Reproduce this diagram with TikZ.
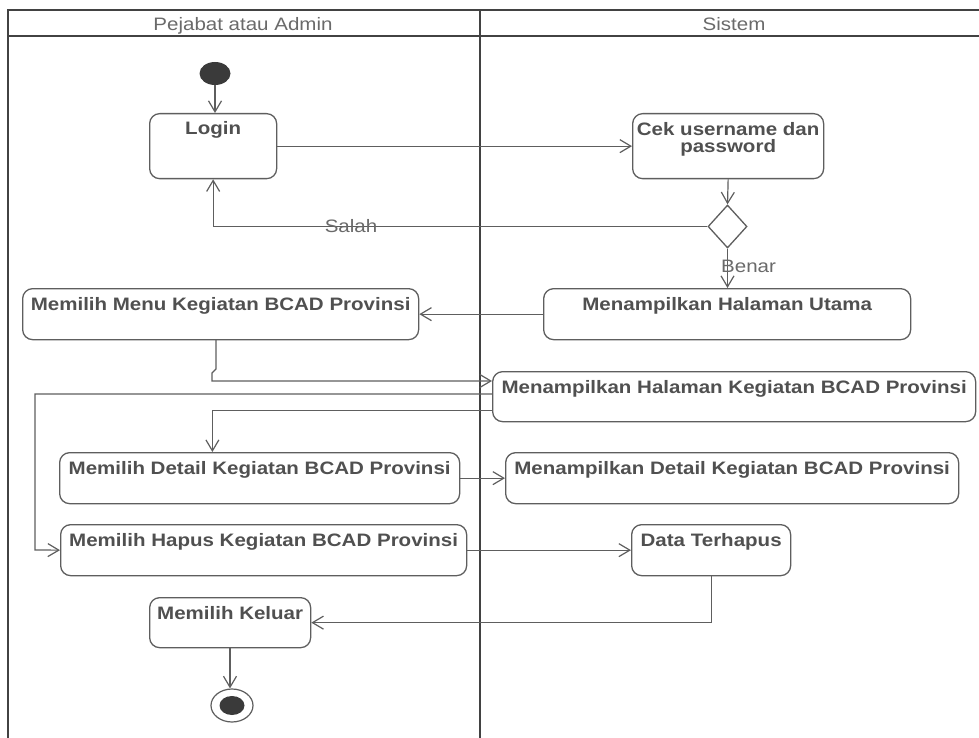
\documentclass[tikz,border=0pt]{standalone}
\usepackage{fontspec}
\setmainfont{Liberation Sans}[FakeStretch=1.14]
\usetikzlibrary{arrows.meta,calc,shapes.geometric}
\definecolor{frm}{HTML}{424242}
\definecolor{ln}{HTML}{5E5E5E}
\definecolor{txt}{HTML}{505050}
\definecolor{htxt}{HTML}{6A6A6A}
\definecolor{dot}{HTML}{3A3A3A}
\tikzset{
  frame/.style={draw=frm, line width=2.6pt},
  abox/.style={draw=ln, line width=1.3pt, rounded corners=10pt, fill=white, inner sep=0pt},
  atext/.style={font=\fontsize{18}{19}\selectfont\bfseries, text=txt, inner sep=0pt},
  hdr/.style={font=\fontsize{18}{19}\selectfont, text=htxt, inner sep=0pt},
  glabel/.style={font=\fontsize{18}{19}\selectfont, text=htxt, inner sep=0pt},
  conn/.style={draw=ln, line width=1.2pt, -{Straight Barb[length=11pt,width=13pt,line width=1.2pt]}},
  plain/.style={draw=ln, line width=1.2pt}
}
\newcommand\actbox[6]{%
  \node[abox, anchor=north west, minimum width={#4-#2}, minimum height={#5-#3}] (#1) at (#2,#3) {};
  \node[atext, anchor=base] (#1t) at ($(#1.north)+(0,22)$) {#6};}
\begin{document}
\begin{tikzpicture}[x=1pt,y=-1pt]
\useasboundingbox (0,0) rectangle (979,738);
\fill[white] (0,0) rectangle (979,738);
% swimlane frame
\coordinate (f1) at (8,738);
\coordinate (f2) at (8,10);
\coordinate (f3) at (979,10);
\coordinate (f4) at (8,36);
\coordinate (f5) at (979,36);
\coordinate (f6) at (480,10);
\coordinate (f7) at (480,738);
\draw[frame] (f1) -- (f2) -- (f3);
\draw[frame] (f4) -- (f5);
\draw[frame] (f6) -- (f7);
\node[hdr, anchor=base] (h1) at (243,31) {Pejabat atau Admin};
\node[hdr, anchor=base] (h2) at (734,31) {Sistem};
% start
\node[ellipse, fill=dot, minimum width=31pt, minimum height=23pt, inner sep=0pt] (start) at (215,73.5) {};
% activities
\actbox{login}{149}{113}{276}{178}{Login}
\node[abox, anchor=north west, minimum width=191pt, minimum height=65pt] (cek) at (632,113) {};
\node[atext, anchor=north, align=center, font=\fontsize{18}{17.5}\selectfont\bfseries] (cekt) at ($(cek.north)+(0,9)$) {Cek username dan\\password};
\node[diamond, draw=ln, line width=1.3pt, fill=white, minimum width=39pt, minimum height=43pt, inner sep=0pt, aspect=0.9] (dec) at (727.5,226.5) {};
\actbox{utama}{543}{288}{910}{339}{Menampilkan Halaman Utama}
\actbox{menu}{22}{288}{418}{339}{Memilih Menu Kegiatan BCAD Provinsi}
\actbox{halkeg}{492}{371}{975}{421}{Menampilkan Halaman Kegiatan BCAD Provinsi}
\actbox{detail}{59}{452}{459}{503}{Memilih Detail Kegiatan BCAD Provinsi}
\actbox{mdetail}{505}{452}{958}{503}{Menampilkan Detail Kegiatan BCAD Provinsi}
\actbox{hapus}{60}{524}{466}{575}{Memilih Hapus Kegiatan BCAD Provinsi}
\actbox{terhapus}{631}{524}{790}{575}{Data Terhapus}
\actbox{keluar}{149}{597}{310}{647}{Memilih Keluar}
% end
\node[ellipse, draw=ln, line width=1.2pt, fill=white, minimum width=42pt, minimum height=33pt, inner sep=0pt] (endo) at (232,705.5) {};
\node[ellipse, fill=dot, minimum width=25pt, minimum height=19pt, inner sep=0pt] (endi) at (232,705.5) {};
% connectors
\draw[conn] (start.south) -- (start.south |- login.north);
\draw[conn] (login.east) -- (cek.west);
\draw[conn] (cek.south) -- (dec.north);
\draw[conn] (dec.west) -| (login.south);
\node[glabel, anchor=base] (salah) at (351,232) {Salah};
\draw[conn] (dec.south) -- (dec.south |- utama.north);
\node[glabel, anchor=base west] (benar) at (721,272) {Benar};
\draw[conn] (utama.west) -- (menu.east);
% menu -> halaman kegiatan (with small jog)
\coordinate (j0) at (216,339);
\coordinate (j1) at (216,369);
\coordinate (j2) at (212,373);
\coordinate (j3) at (212,381);
\coordinate (k1) at (492,381);
\draw[conn] (j0) -- (j1) -- (j2) -- (j3) -- (k1);
% halaman kegiatan -> hapus
\coordinate (k2) at (492,394);
\coordinate (c2) at (35,550);
\draw[conn] (k2) -| (c2) -- (hapus.west);
% halaman kegiatan -> detail
\coordinate (k3) at (492,410.4);
\coordinate (dtop) at (212.4,452);
\draw[conn] (k3) -| (dtop);
\draw[conn] (detail.east) -- (mdetail.west);
\draw[conn] (hapus.east) -- (terhapus.west);
\draw[conn] (terhapus.south) |- (keluar.east);
\coordinate (kb) at (230,647);
\draw[conn] (kb) -- (kb |- endo.north);
\end{tikzpicture}
\end{document}
